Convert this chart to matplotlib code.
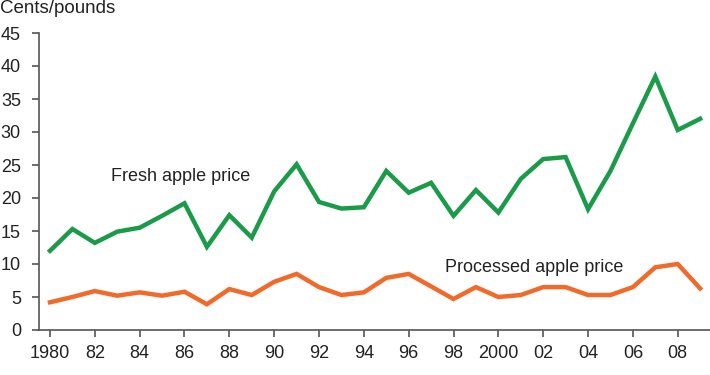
import numpy as np
import matplotlib.pyplot as plt

plt.rcParams['font.family'] = ['Liberation Sans', 'DejaVu Sans']

years = list(range(1980, 2010))
fresh_price = [12.0, 15.3, 13.2, 14.9, 15.5, 17.3, 19.2, 12.6, 17.4, 14.0,
               21.0, 25.1, 19.4, 18.4, 18.6, 24.1, 20.8, 22.3, 17.3, 21.2,
               17.8, 22.9, 25.9, 26.2, 18.3, 24.1, 31.3, 38.4, 30.3, 32.0]
processed_price = [4.2, 5.0, 5.9, 5.2, 5.7, 5.2, 5.8, 3.9, 6.2, 5.3,
                   7.3, 8.5, 6.5, 5.3, 5.7, 7.9, 8.5, 6.6, 4.7, 6.5,
                   5.0, 5.3, 6.5, 6.5, 5.3, 5.3, 6.5, 9.5, 10.0, 6.3]
tick_years = list(range(1980, 2010, 2))
tick_labels = ['1980', '82', '84', '86', '88', '90', '92', '94', '96', '98',
               '2000', '02', '04', '06', '08']

fig = plt.figure(figsize=(7.1, 3.75), dpi=100)
ax = fig.add_axes([39/710, 0.12, 1 - 39/710, 0.792])

ax.plot(years, fresh_price, color='#1a9b4a', lw=3.2, solid_joinstyle='miter')
ax.plot(years, processed_price, color='#f26a2a', lw=3.2, solid_joinstyle='miter')

ax.set_xlim(1979.51, 2009.44)
ax.set_ylim(0, 45)
ax.set_yticks(range(0, 50, 5))
ax.set_xticks(tick_years)
ax.set_xticklabels(tick_labels)

for s in ['top', 'right']:
    ax.spines[s].set_visible(False)
for s in ['left', 'bottom']:
    ax.spines[s].set_color('#555555')
    ax.spines[s].set_linewidth(1.2)

ax.tick_params(axis='y', length=5, width=1.2, color='#555555', pad=8,
               labelsize=13, labelcolor='#222222')
ax.tick_params(axis='x', length=5, width=1.2, color='#555555', pad=6,
               labelsize=13, labelcolor='#222222')

ax.text(1982.7, 23.3, 'Fresh apple price', fontsize=13, color='#222222',
        va='center', ha='left')
ax.text(1997.6, 9.4, 'Processed apple price', fontsize=13, color='#222222',
        va='center', ha='left')
fig.text(0.0, 0.978, 'Cents/pounds', fontsize=13.5, color='#222222',
         va='center', ha='left')

fig.savefig('out.png', dpi=100)
